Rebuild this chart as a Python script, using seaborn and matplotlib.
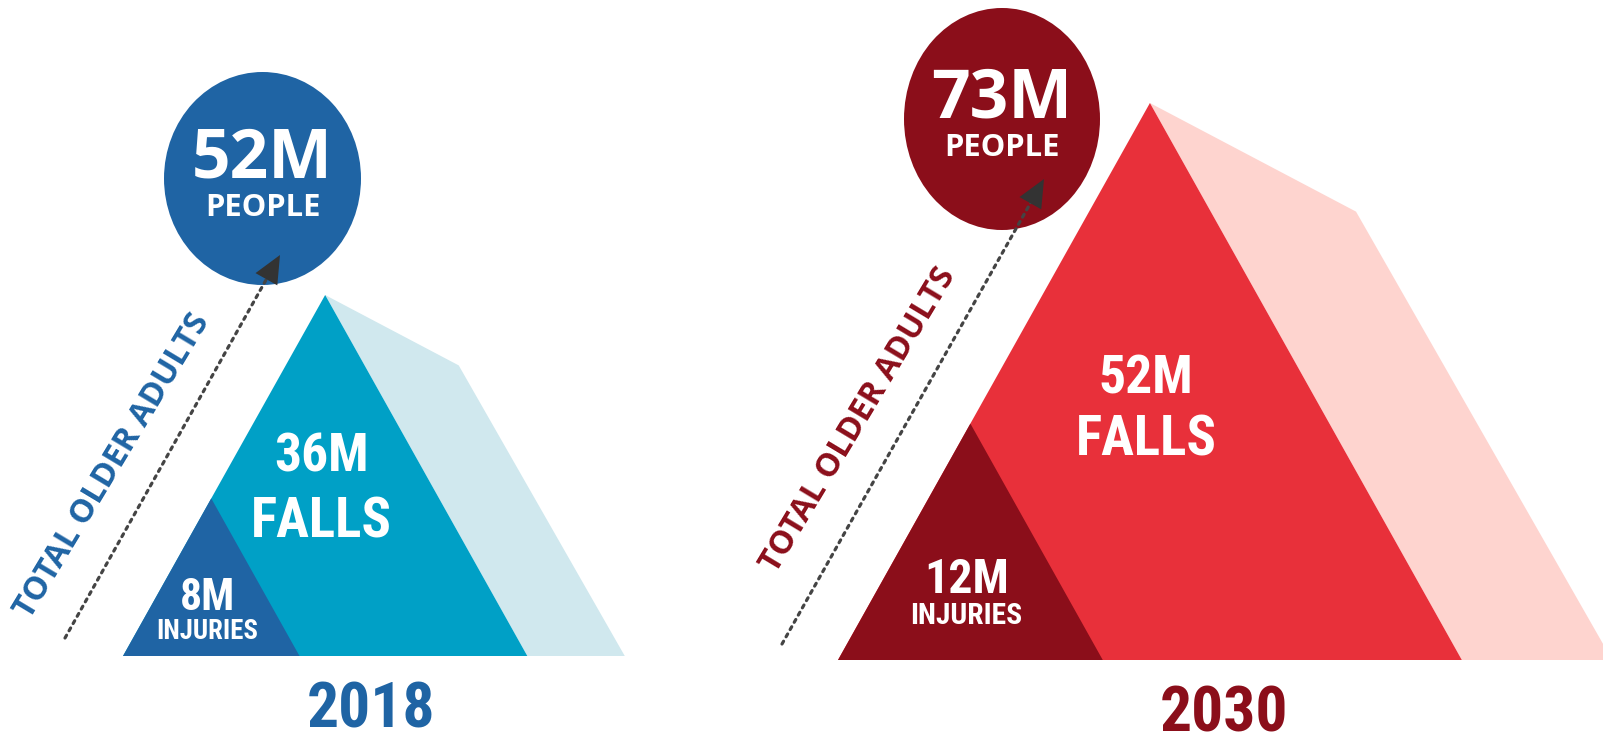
import matplotlib
matplotlib.use("Agg")
import numpy as np
import pandas as pd
import seaborn as sns
import matplotlib.pyplot as plt
from matplotlib.patches import Polygon, Ellipse
from matplotlib import font_manager

# ---------------- data ----------------
years = ["2018", "2030"]
people_m = [52, 73]      # total older adults (millions)
falls_m = [36, 52]       # falls (millions)
injuries_m = [8, 12]     # fall injuries (millions)
side_label = "TOTAL OLDER ADULTS"

# ---------------- styles / layout ----------------
palettes = [
    sns.color_palette(["#1f64a4", "#00a0c6", "#d0e8ee"]),   # 2018 blues
    sns.color_palette(["#8b0e1a", "#e8303a", "#fed4cf"]),   # 2030 reds
]
base_left = [123, 838]
base_y = [656, 660]
circle_c = [(262.5, 178.5), (1002, 119)]
circle_r = [(98.5, 106.5), (98, 111)]
line_start = [(65, 638), (782, 644)]
line_tip = [(280, 255), (1044, 179)]
side_center = [(113, 466), (859, 420)]
year_x = [371, 1224]
year_base = [728, 731]

FALL_H0, FALL_PX = -80.0, 12.25   # falls value -> triangle height (px)
INJ_PX = 19.7                     # injuries value -> triangle height (px)
ASPECT = 1.12                     # triangle width / height
KNEE = (0.37, 0.195)              # light shape knee, relative to height
LIGHT_EXT = 0.27                  # light shape base extension

names = {f.name for f in font_manager.fontManager.ttflist}
COND = next((n for n in ["Roboto Condensed", "Liberation Sans Narrow",
                         "Open Sans Condensed"] if n in names), "Roboto")
ROUND = "Open Sans" if "Open Sans" in names else "DejaVu Sans"
CAP = 0.71


def pt(cap_px):
    return cap_px / CAP * 72 / 100


sns.set_theme(style="white")
plt.rcParams["font.family"] = [ROUND, "DejaVu Sans"]

fig = plt.figure(figsize=(16.03, 7.41), dpi=100)
ax = fig.add_axes([0, 0, 1, 1])
ax.set_xlim(0, 1603)
ax.set_ylim(741, 0)
ax.axis("off")

for i in range(len(years)):
    dark, mid, light = palettes[i]
    x0, y0 = base_left[i], base_y[i]
    h = FALL_H0 + FALL_PX * falls_m[i]
    w = ASPECT * h
    apex = (x0 + w / 2, y0 - h)
    right = x0 + w
    knee = (apex[0] + KNEE[0] * h, apex[1] + KNEE[1] * h)
    ax.add_patch(Polygon([apex, knee, (right + LIGHT_EXT * h, y0), (right, y0)],
                         closed=True, fc=light, ec="none", zorder=1))
    ax.add_patch(Polygon([(x0, y0), apex, (right, y0)], closed=True,
                         fc=mid, ec="none", zorder=2))
    hi = INJ_PX * injuries_m[i]
    wi = ASPECT * hi
    ax.add_patch(Polygon([(x0, y0), (x0 + wi / 2, y0 - hi), (x0 + wi, y0)],
                         closed=True, fc=dark, ec="none", zorder=3))

    # circle
    cx, cy = circle_c[i]
    rx, ry = circle_r[i]
    ax.add_patch(Ellipse((cx, cy), 2 * rx, 2 * ry, fc=dark, ec="none", zorder=4))
    ax.text(cx, cy - 1 if i == 0 else cy - 2, f"{people_m[i]}M", ha="center", va="baseline",
            fontsize=pt(48), fontweight="bold", color="white", family=ROUND, zorder=6)
    ax.text(cx, cy + 37, "PEOPLE", ha="center", va="baseline",
            fontsize=pt(22), fontweight="bold", color="white", family=ROUND, zorder=6)

    # dotted arrow
    (sx, sy), (tx, ty) = line_start[i], line_tip[i]
    d = np.array([tx - sx, ty - sy])
    u = d / np.hypot(*d)
    ex, ey = np.array([tx, ty]) - u * 20
    ax.plot([sx, ex], [sy, ey], linestyle=(0, (1, 1.6)), lw=2.3, color="#444444",
            dash_capstyle="round", zorder=5)
    ax.annotate("", xy=(tx, ty), xytext=(ex, ey),
                arrowprops=dict(arrowstyle="-|>,head_length=1.0,head_width=0.45",
                                mutation_scale=20, color="#333333", lw=0,
                                shrinkA=0, shrinkB=0), zorder=6)

    # side label
    scx, scy = side_center[i]
    ax.text(scx, scy, side_label, ha="center", va="center", rotation=59,
            rotation_mode="anchor", fontsize=pt(23), fontweight="bold",
            color=dark, family=ROUND, zorder=6)

    # falls label
    fx = apex[0] - 4
    fb = [472, 394][i]
    ax.text(fx, fb, f"{falls_m[i]}M", ha="center", va="baseline",
            fontsize=pt(38), fontweight="bold", color="white", family=COND, zorder=6)
    ax.text(fx, fb + [65, 61][i], "FALLS", ha="center", va="baseline",
            fontsize=pt(39), fontweight="bold", color="white", family=COND, zorder=6)

    # injuries label
    ix = x0 + wi / 2 - 4
    ib = [610, 593][i]
    ax.text(ix, ib, f"{injuries_m[i]}M", ha="center", va="baseline",
            fontsize=pt([31, 34][i]), fontweight="bold", color="white", family=COND, zorder=6)
    ax.text(ix, ib + [29, 31][i], "INJURIES", ha="center", va="baseline",
            fontsize=pt([19, 21][i]), fontweight="bold", color="white", family=COND, zorder=6)

    # year
    ax.text(year_x[i], year_base[i], years[i], ha="center", va="baseline",
            fontsize=pt(45), fontweight="bold", color=dark, family=COND, zorder=6)

fig.savefig("out.png", dpi=100, facecolor="white")
